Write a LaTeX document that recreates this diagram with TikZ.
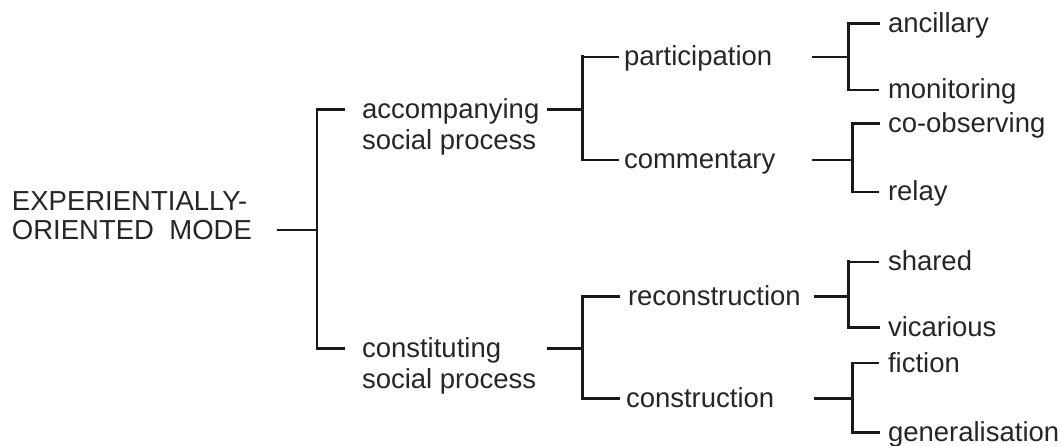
\documentclass[tikz,border=0pt]{standalone}
\usepackage{fontspec}
\setmainfont{Liberation Sans}
\newcommand{\labfont}{\fontsize{27.5}{31}\selectfont}
\newcommand{\rootfont}{\fontsize{27.5}{29}\selectfont}
\tikzset{
  lab/.style={anchor=base west, inner sep=0pt, outer sep=0pt, font=\labfont, text=black!85, align=left},
  thn/.style={line width=1.6pt, draw=black!90, line cap=rect},
  thk/.style={line width=3pt, draw=black!90, line cap=rect}
}
\begin{document}
\begin{tikzpicture}[x=1pt,y=-1pt]
\useasboundingbox (0,0) rectangle (1063,446);
% text nodes (multi-line nodes: base = baseline of last line)
\node[lab, font=\rootfont] (root) at (12,240) {EXPERIENTIALLY-\\ORIENTED~~MODE};
\node[lab] (acc) at (362,150) {accompanying\\social process};
\node[lab] (con) at (362,388) {constituting\\social process};
\node[lab] (par) at (624,66) {participation};
\node[lab] (com) at (624,169) {commentary};
\node[lab] (rec) at (628,306) {reconstruction};
\node[lab] (cns) at (626,407) {construction};
\node[lab] (anc) at (888,33) {ancillary};
\node[lab] (mon) at (888,99) {monitoring};
\node[lab] (coo) at (888,133) {co-observing};
\node[lab] (rel) at (888,201) {relay};
\node[lab] (sha) at (888,271) {shared};
\node[lab] (vic) at (888,337) {vicarious};
\node[lab] (fic) at (888,372) {fiction};
\node[lab] (gen) at (888,441) {generalisation};
% junction coordinates
\coordinate (r0) at (278,230);
\coordinate (j0) at (317,230);
\coordinate (j0t) at (317,110);
\coordinate (j0b) at (317,348);
\coordinate (acc-in) at (343,110);
\coordinate (con-in) at (343,348);
\coordinate (acc-out) at (548,110);
\coordinate (con-out) at (548,348);
\coordinate (j1) at (582,110);
\coordinate (j1t) at (582,57);
\coordinate (j1b) at (582,160);
\coordinate (par-in) at (618,57);
\coordinate (com-in) at (618,160);
\coordinate (j2) at (582,348);
\coordinate (j2t) at (582,297);
\coordinate (j2b) at (582,398);
\coordinate (rec-in) at (618,297);
\coordinate (cns-in) at (618,398);
\coordinate (par-out) at (813,57);
\coordinate (j3) at (848,57);
\coordinate (j3t) at (848,24);
\coordinate (j3b) at (848,90);
\coordinate (com-out) at (813,160);
\coordinate (j4) at (852,160);
\coordinate (j4t) at (852,124);
\coordinate (j4b) at (852,192);
\coordinate (rec-out) at (815,297);
\coordinate (j5) at (848,297);
\coordinate (j5t) at (848,262);
\coordinate (j5b) at (848,328);
\coordinate (cns-out) at (815,398);
\coordinate (j6) at (852,398);
\coordinate (j6t) at (852,363);
\coordinate (j6b) at (852,432);
\coordinate (anc-in) at (878,24);
\coordinate (mon-in) at (878,90);
\coordinate (coo-in) at (878,124);
\coordinate (rel-in) at (878,192);
\coordinate (sha-in) at (878,262);
\coordinate (vic-in) at (878,328);
\coordinate (fic-in) at (878,363);
\coordinate (gen-in) at (878,432);
% level 0
\draw[thn] (r0) -- (j0);
\draw[thn] (j0t) -- (j0b);
\draw[thk] (j0t) -- (acc-in);
\draw[thk] (j0b) -- (con-in);
% level 1
\draw[thk] (acc-out) -- (j1);
\draw[thk] (j1t) -- (j1b);
\draw[thn] (j1t) -- (par-in);
\draw[thn] (j1b) -- (com-in);
\draw[thk] (con-out) -- (j2);
\draw[thk] (j2t) -- (j2b);
\draw[thk] (j2t) -- (rec-in);
\draw[thk] (j2b) -- (cns-in);
% level 2
\draw[thn] (par-out) -- (j3);
\draw[thk] (j3t) -- (j3b);
\draw[thk] (j3t) -- (anc-in);
\draw[thn] (j3b) -- (mon-in);
\draw[thn] (com-out) -- (j4);
\draw[thk] (j4t) -- (j4b);
\draw[thk] (j4t) -- (coo-in);
\draw[thn] (j4b) -- (rel-in);
\draw[thk] (rec-out) -- (j5);
\draw[thk] (j5t) -- (j5b);
\draw[thn] (j5t) -- (sha-in);
\draw[thk] (j5b) -- (vic-in);
\draw[thk] (cns-out) -- (j6);
\draw[thk] (j6t) -- (j6b);
\draw[thn] (j6t) -- (fic-in);
\draw[thk] (j6b) -- (gen-in);
\end{tikzpicture}
\end{document}
